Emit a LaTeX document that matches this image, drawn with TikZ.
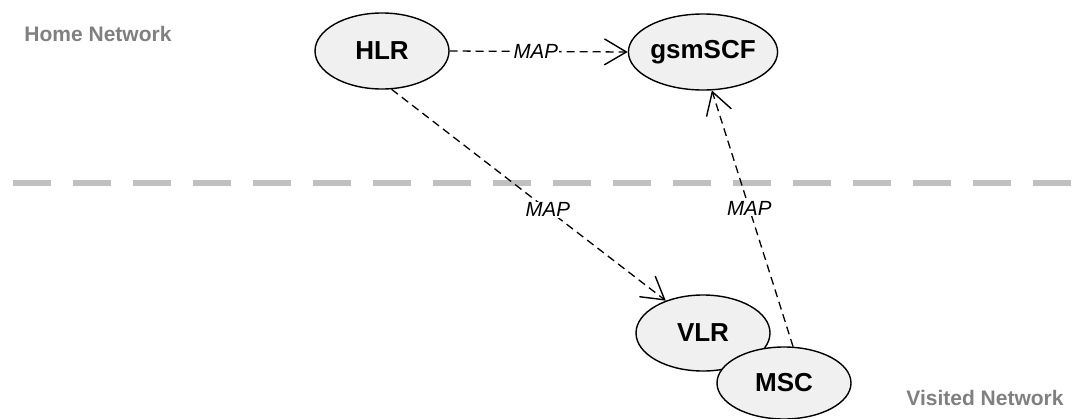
\documentclass[tikz,border=0pt]{standalone}
\usepackage{fontspec}
\setmainfont{Liberation Sans}
\usetikzlibrary{shapes.geometric,arrows.meta}
\definecolor{nodefill}{HTML}{F0F0F0}
\definecolor{netgray}{HTML}{808080}
\definecolor{sepgray}{HTML}{C0C0C0}
\tikzset{
  elnode/.style={ellipse, draw=black, line width=1.4pt, fill=nodefill, minimum width=134pt, minimum height=76pt, inner sep=0pt, font=\fontsize{26}{28}\selectfont\bfseries},
  msg/.style={draw=black, line width=1.3pt, dash pattern=on 8pt off 5pt, -{Straight Barb[length=22pt,width=26pt,line width=1.4pt]}},
  msglabel/.style={fill=white, inner sep=1pt, font=\fontsize{20.5}{22}\selectfont\itshape},
  netlabel/.style={text=netgray, font=\fontsize{21}{22}\selectfont\bfseries, inner sep=0pt},
}
\begin{document}
\begin{tikzpicture}[x=1pt,y=-1pt]
\useasboundingbox (0,0) rectangle (1077,418);
\draw[sepgray, line width=6pt, dash pattern=on 38pt off 22pt] (13,183) -- (1077,183);
\node[netlabel] (home) at (98,34) {Home Network};
\node[netlabel] (visited) at (985,398) {Visited Network};
\node[elnode] (HLR) at (382,51) {HLR};
\node[elnode] (gsm) at (703,52) {gsmSCF};
\node[elnode] (VLR) at (703,333) {VLR};
\node[elnode, minimum height=72pt] (MSC) at (784,383) {MSC};
\draw[msg] (HLR.east) -- node[msglabel, xshift=-3pt] {MAP} (gsm.west);
\draw[msg] (HLR.284) -- node[msglabel, pos=0.57] {MAP} (VLR.139);
\draw[msg] (MSC.76) -- node[msglabel, pos=0.54] {MAP} (gsm.283);
\end{tikzpicture}
\end{document}
